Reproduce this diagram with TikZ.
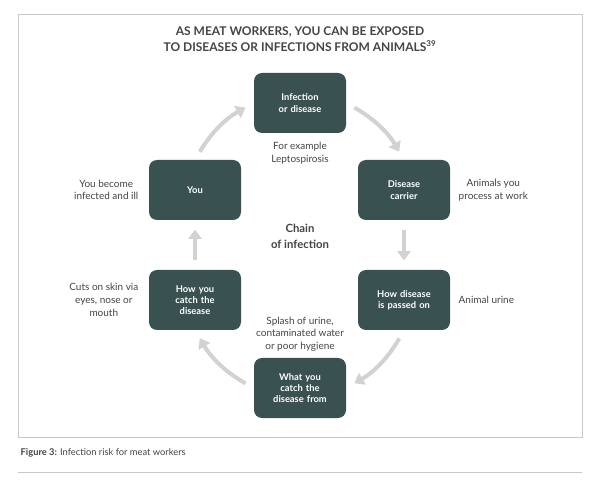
\documentclass[tikz,border=0pt]{standalone}
\usepackage{fontspec}
\setmainfont{Lato}
\usetikzlibrary{arrows.meta,positioning}
\definecolor{boxteal}{HTML}{3A5151}
\definecolor{arrowgrey}{HTML}{D2D2D2}
\definecolor{textgrey}{HTML}{444444}
\definecolor{framegrey}{HTML}{C8C8C8}
\tikzset{
  stage/.style={draw=none, fill=boxteal, rounded corners=6pt, minimum width=69pt,
    minimum height=45pt, text width=62pt, align=center, text=white,
    font=\fontsize{7}{8.5}\selectfont\bfseries},
  note/.style={text=textgrey, align=center, font=\fontsize{7.5}{9.5}\selectfont},
  flow/.style={arrowgrey, line width=3pt, -{Triangle[length=7pt,width=10pt]},
    shorten <=7pt, shorten >=7pt}
}
\begin{document}
\begin{tikzpicture}[x=0.75pt,y=-0.75pt]
  \useasboundingbox (0,0) rectangle (600,488);

  % frame and caption
  \draw[framegrey, line width=0.6pt] (18,14) rectangle (582,437);
  \draw[framegrey, line width=0.6pt] (18,472) -- (582,472);
  \node[anchor=west, text=textgrey, font=\fontsize{7}{8}\selectfont] (caption) at (16,453)
    {\textbf{Figure 3:} Infection risk for meat workers};

  % title
  \node[align=center, text=textgrey, font=\fontsize{9}{12.5}\selectfont\bfseries] (title) at (300,39)
    {AS MEAT WORKERS, YOU CAN BE EXPOSED\\TO DISEASES OR INFECTIONS FROM ANIMALS\textsuperscript{39}};

  % chain boxes
  \node[stage] (infection) at (300,103) {Infection\\or disease};
  \node[stage] (carrier)   at (404,190) {Disease\\carrier};
  \node[stage] (passed)    at (404,300) {How disease\\is passed on};
  \node[stage] (source)    at (300,388) {What you\\catch the\\disease from};
  \node[stage] (catch)     at (195,300) {How you\\catch the\\disease};
  \node[stage] (you)       at (195,190) {You};

  % centre label
  \node[align=center, text=textgrey, font=\fontsize{8.5}{12}\selectfont\bfseries] (chain) at (300,236)
    {Chain\\of infection};

  % notes
  \node[note, below=3pt of infection] (example) {For example\\Leptospirosis};
  \node[note, anchor=west] (animals) at (454,190) {Animals you\\process at work};
  \node[note, anchor=west] (urine)   at (454,300) {Animal urine};
  \node[note, anchor=north] (splash) at (300,312) {Splash of urine,\\contaminated water\\or poor hygiene};
  \node[note, anchor=east] (skin)    at (143,300) {Cuts on skin via\\eyes, nose or\\mouth};
  \node[note, anchor=east] (ill)     at (143,190) {You become\\infected and ill};

  % arrows
  \draw[flow] (infection.east) to[bend left=15] (carrier.north);
  \draw[flow] (carrier) -- (passed);
  \draw[flow] (passed.south) to[bend left=15] (source.east);
  \draw[flow] (source.west) to[bend left=15] (catch.south);
  \draw[flow] (catch) -- (you);
  \draw[flow] (you.north) to[bend left=15] (infection.west);
\end{tikzpicture}
\end{document}
